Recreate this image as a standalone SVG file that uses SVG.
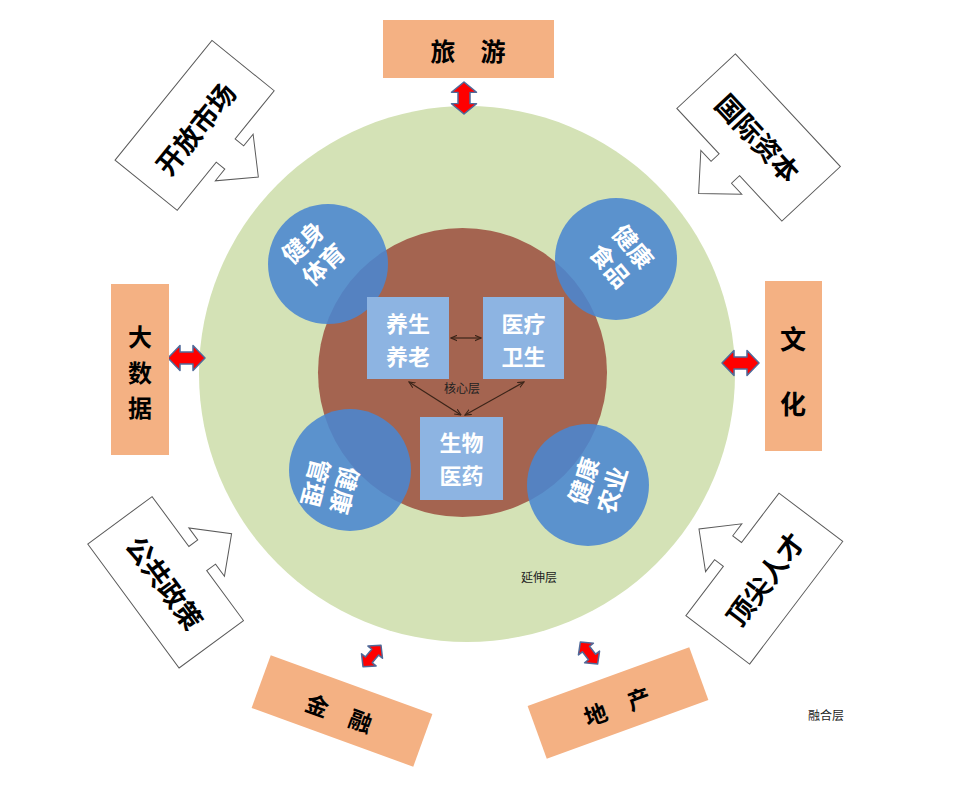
<svg xmlns="http://www.w3.org/2000/svg" width="955" height="798" viewBox="0 0 955 798">
<style>
.t{font-family:"Noto Sans CJK SC","Noto Sans",sans-serif;font-weight:700;}
.blk{fill:#000;}
.wht{fill:#fff;}
.orange{fill:#f4b183;}
.callout{fill:#fff;stroke:#5a5a5a;stroke-width:1;}
.red{fill:#ff0000;stroke:#4f6a9a;stroke-width:1.5;stroke-linejoin:round;}
.blue{fill:#4a86d0;opacity:0.88;}
.core{fill:#8db4e2;}
.small{font-family:"Noto Sans CJK SC","Noto Sans",sans-serif;font-size:12px;fill:#222;}
.conn{stroke:#3b2418;stroke-width:1.2;fill:none;marker-start:url(#ah);marker-end:url(#ah);}
</style>
<defs>
<marker id="ah" viewBox="0 0 10 10" refX="9" refY="5" markerWidth="7" markerHeight="7" orient="auto-start-reverse" markerUnits="userSpaceOnUse">
<path d="M0,1 L9,5 L0,9" fill="none" stroke="#3b2418" stroke-width="1.6"/>
</marker>
<path id="callA" d="M-77,-40 H77 V40 H15 V51 H30 L0,82 L-30,51 H-15 V40 H-77 Z"/>
<path id="callB" d="M-77,40 H77 V-40 H15 V-51 H30 L0,-82 L-30,-51 H-15 V-40 H-77 Z"/>
<path id="dblL" d="M-18.5,0 L-6.5,-12.5 L-6.5,-6 L6.5,-6 L6.5,-12.5 L18.5,0 L6.5,12.5 L6.5,6 L-6.5,6 L-6.5,12.5 Z"/>
<path id="dblS" d="M-14,0 L-5,-9.5 L-5,-4.5 L5,-4.5 L5,-9.5 L14,0 L5,9.5 L5,4.5 L-5,4.5 L-5,9.5 Z"/>
</defs>

<g id="extension-layer">
<circle cx="467" cy="374" r="268" fill="#d4e2b6"/>
<text class="small" x="539" y="582" text-anchor="middle">延伸层</text>
</g>
<g id="core-layer">
<circle cx="462.5" cy="372.5" r="144.5" fill="#a46450"/>
</g>

<g id="c-jianshen">
<circle class="blue" cx="328" cy="264" r="60"/>
<text class="t wht" font-size="24" text-anchor="middle" dominant-baseline="central" transform="translate(312,252) rotate(-43)"><tspan x="0" y="-15">健身</tspan><tspan x="0" y="15">体育</tspan></text>
</g>
<g id="c-shipin">
<circle class="blue" cx="616" cy="259" r="61"/>
<text class="t wht" font-size="24" text-anchor="middle" dominant-baseline="central" transform="translate(623,255) rotate(50)"><tspan x="0" y="-15">健康</tspan><tspan x="0" y="15">食品</tspan></text>
</g>
<g id="c-guanli">
<circle class="blue" cx="350" cy="470" r="61"/>
<text class="t wht" font-size="24" text-anchor="middle" dominant-baseline="central" transform="translate(332,487) rotate(105)"><tspan x="0" y="-15">健康</tspan><tspan x="0" y="15">管理</tspan></text>
</g>
<g id="c-nongye">
<circle class="blue" cx="588" cy="485" r="61"/>
<text class="t wht" font-size="24" text-anchor="middle" dominant-baseline="central" transform="translate(596,485) rotate(-72)"><tspan x="0" y="-15">健康</tspan><tspan x="0" y="15">农业</tspan></text>
</g>

<g id="n-yangsheng">
<rect class="core" x="367" y="297" width="82" height="82"/>
<text class="t wht" font-size="22" text-anchor="middle" dominant-baseline="central"><tspan x="408" y="322">养生</tspan><tspan x="408" y="355">养老</tspan></text>
</g>
<g id="n-yiliao">
<rect class="core" x="483" y="297" width="81" height="82"/>
<text class="t wht" font-size="22" text-anchor="middle" dominant-baseline="central"><tspan x="523.5" y="322">医疗</tspan><tspan x="523.5" y="355">卫生</tspan></text>
</g>
<g id="n-shengwu">
<rect class="core" x="420" y="417" width="83" height="83"/>
<text class="t wht" font-size="22" text-anchor="middle" dominant-baseline="central"><tspan x="461.5" y="441">生物</tspan><tspan x="461.5" y="474">医药</tspan></text>
</g>
<text class="small" x="462" y="393" text-anchor="middle" font-size="11">核心层</text>

<g id="connectors">
<line class="conn" x1="451" y1="338" x2="481" y2="338"/>
<line class="conn" x1="409" y1="382" x2="461" y2="415"/>
<line class="conn" x1="524" y1="382" x2="465" y2="415"/>
<use href="#dblL" class="red" transform="translate(464,98) rotate(90) scale(0.87,1)"/>
<use href="#dblL" class="red" transform="translate(186.5,358)"/>
<use href="#dblL" class="red" transform="translate(740.5,363)"/>
<use href="#dblS" class="red" transform="translate(372,656) rotate(-50)"/>
<use href="#dblS" class="red" transform="translate(589,653) rotate(52)"/>
</g>

<g id="n-lvyou">
<rect class="orange" x="383" y="20" width="171" height="58"/>
<text class="t blk" font-size="25" text-anchor="middle" dominant-baseline="central" x="468" y="50">旅　游</text>
</g>
<g id="n-dashuju">
<rect class="orange" x="111" y="284" width="58" height="171"/>
<text class="t blk" font-size="24" text-anchor="middle" dominant-baseline="central"><tspan x="140" y="335">大</tspan><tspan x="140" y="370.5">数</tspan><tspan x="140" y="406">据</tspan></text>
</g>
<g id="n-wenhua">
<rect class="orange" x="765" y="281" width="57" height="170"/>
<text class="t blk" font-size="26" text-anchor="middle" dominant-baseline="central"><tspan x="793" y="337">文</tspan><tspan x="793" y="402">化</tspan></text>
</g>
<g id="n-jinrong" transform="translate(342,711) rotate(20)">
<rect class="orange" x="-86" y="-28" width="172" height="56"/>
<text class="t blk" font-size="23" text-anchor="middle" dominant-baseline="central" x="-2" y="2">金　融</text>
</g>
<g id="n-dichan" transform="translate(618,703) rotate(-20)">
<rect class="orange" x="-86" y="-28" width="172" height="56"/>
<text class="t blk" font-size="23" text-anchor="middle" dominant-baseline="central" x="-2" y="2">地　产</text>
</g>

<g id="n-kaifang" transform="translate(194.6,125.4) rotate(-51)">
<use href="#callA" class="callout"/>
<text class="t blk" font-size="27" text-anchor="middle" dominant-baseline="central" x="-2" y="2">开放市场</text>
</g>
<g id="n-guoji" transform="translate(758.6,137.5) rotate(47)">
<use href="#callA" class="callout"/>
<text class="t blk" font-size="27" text-anchor="middle" dominant-baseline="central" x="0" y="0">国际资本</text>
</g>
<g id="n-gonggong" transform="translate(165.6,582.3) rotate(53.6)">
<use href="#callB" class="callout"/>
<text class="t blk" font-size="27" text-anchor="middle" dominant-baseline="central" x="0" y="0">公共政策</text>
</g>
<g id="n-dingjian" transform="translate(764.3,578.6) rotate(-52.8)">
<use href="#callB" class="callout"/>
<text class="t blk" font-size="27" text-anchor="middle" dominant-baseline="central" x="0" y="0">顶尖人才</text>
</g>

<text class="small" x="826" y="720" text-anchor="middle">融合层</text>
</svg>
